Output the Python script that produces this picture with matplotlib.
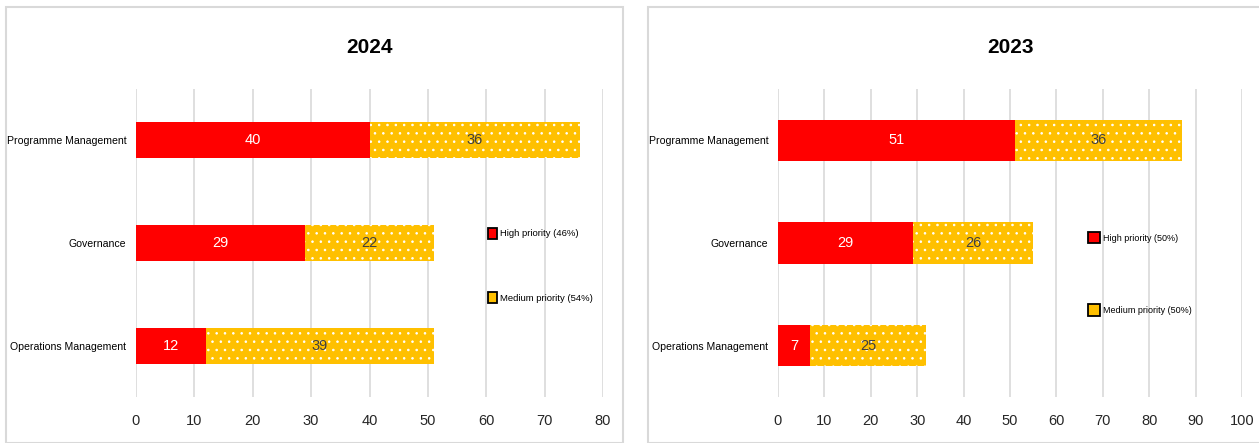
import matplotlib.pyplot as plt
from matplotlib.patches import Patch, Rectangle

categories = ["Programme Management", "Governance", "Operations Management"]
high_2024 = [40, 29, 12]
med_2024 = [36, 22, 39]
high_2023 = [51, 29, 7]
med_2023 = [36, 26, 25]
legend_2024 = ["High priority (46%)", "Medium priority (54%)"]
legend_2023 = ["High priority (50%)", "Medium priority (50%)"]

RED = "#FF0000"
YELLOW = "#FFC000"
GRID = "#D9D9D9"
TEXT = "#262626"

plt.rcParams["font.family"] = ["Liberation Sans", "DejaVu Sans"]
plt.rcParams["hatch.color"] = "white"
plt.rcParams["hatch.linewidth"] = 0.6


def draw_panel(ax, title, high, med, xmax, bar_h, labels, leg_pos, leg_space, leg_size, hl):
    y = list(range(len(categories)))[::-1]
    ax.barh(y, high, height=bar_h, color=RED, linewidth=0)
    ax.barh(y, med, left=high, height=bar_h, color=YELLOW, linewidth=0, hatch="..")
    for yi, h, m in zip(y, high, med):
        ax.text(h / 2, yi, str(h), ha="center", va="center", color="white", fontsize=10.5)
        ax.text(h + m / 2, yi, str(m), ha="center", va="center", color="#404040", fontsize=10.5)
    ax.set_xlim(0, xmax)
    ax.set_xticks(range(0, xmax + 1, 10))
    ax.set_ylim(-0.5, len(categories) - 0.5)
    ax.set_yticks(y)
    ax.set_yticklabels(categories)
    ax.tick_params(axis="x", length=0, pad=12, labelsize=10.5, colors=TEXT)
    ax.tick_params(axis="y", length=0, pad=7, labelsize=7.6, colors="black")
    ax.grid(axis="x", color=GRID, linewidth=1.2)
    ax.set_axisbelow(True)
    for s in ax.spines.values():
        s.set_visible(False)
    handles = [Patch(facecolor=RED, edgecolor="black", linewidth=1.3),
               Patch(facecolor=YELLOW, edgecolor="black", linewidth=1.3)]
    ax.legend(handles, labels, loc="center left", bbox_to_anchor=leg_pos,
              frameon=False, fontsize=leg_size, handlelength=hl, handleheight=1.5,
              handletextpad=0.3, labelspacing=leg_space, borderpad=0.3)
    ax.set_title(title, fontsize=15, fontweight="bold", pad=26)


fig = plt.figure(figsize=(12.59, 4.43), dpi=100)
W, H = 1259, 443
fig.patches.append(Rectangle((6 / W, 0), (623 - 6) / W, 1 - 7 / H, transform=fig.transFigure,
                             fill=False, edgecolor=GRID, linewidth=1.5))
fig.patches.append(Rectangle((648 / W, 0), 0.5, 1 - 7 / H, transform=fig.transFigure,
                             fill=False, edgecolor=GRID, linewidth=1.5))

ax1 = fig.add_axes([136 / W, 1 - 397 / H, (603 - 136) / W, 308 / H])
ax2 = fig.add_axes([778 / W, 1 - 397 / H, (1242 - 778) / W, 308 / H])

draw_panel(ax1, "2024", high_2024, med_2024, 80, 0.35, legend_2024, (0.738, 0.427), 5.6, 6.8, 0.9)
draw_panel(ax2, "2023", high_2023, med_2023, 100, 0.40, legend_2023, (0.652, 0.40), 6.8, 6.5, 1.4)

fig.savefig("out.png", dpi=100)
